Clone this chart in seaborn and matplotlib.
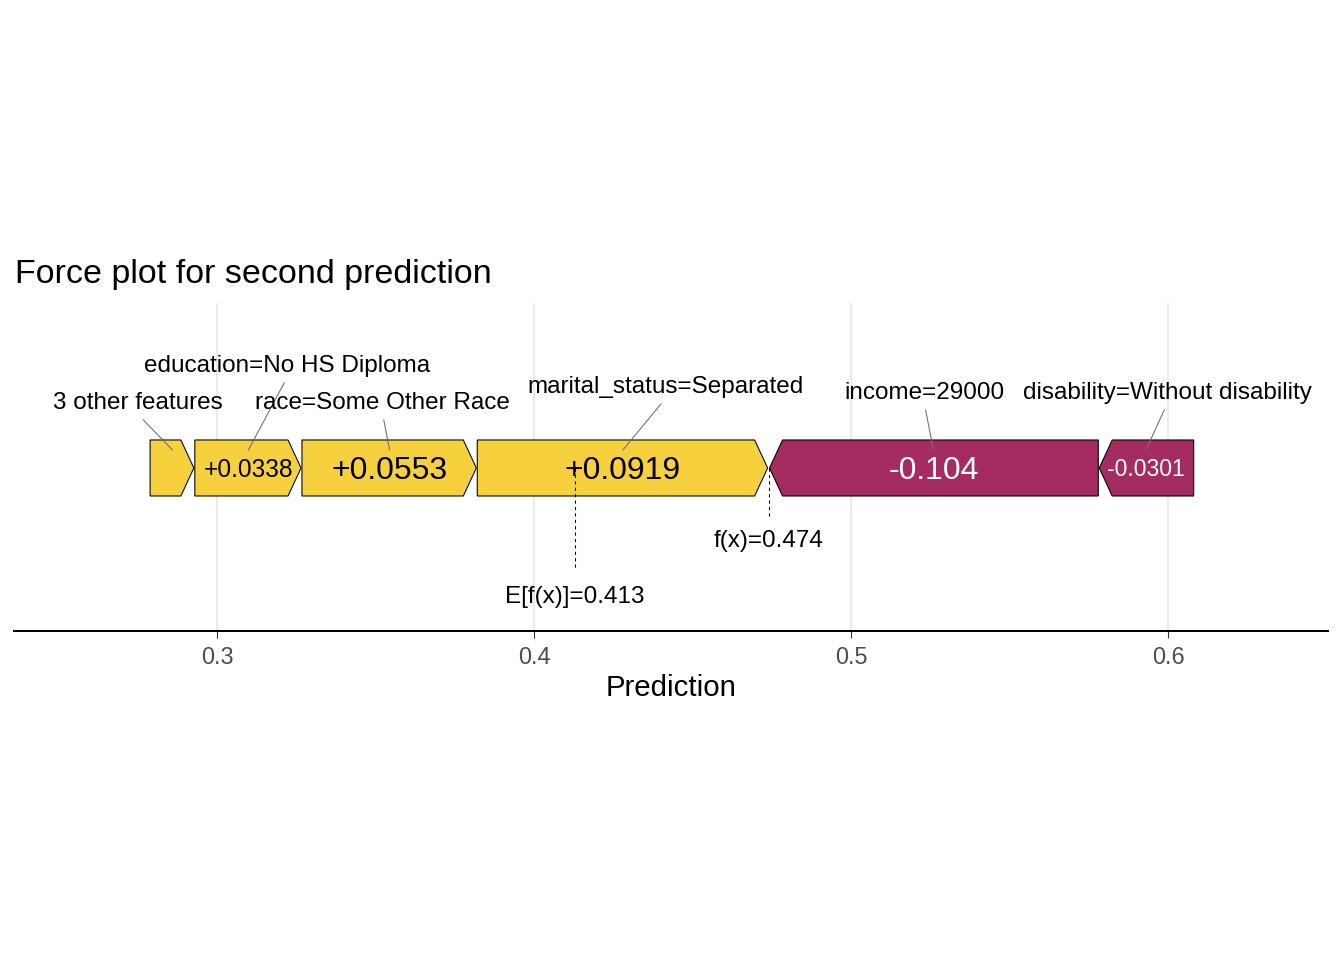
import matplotlib
matplotlib.use("Agg")
import matplotlib.pyplot as plt
import seaborn as sns

# SHAP contributions, left to right as drawn
features = ["3 other features", "education=No HS Diploma", "race=Some Other Race",
            "marital_status=Separated", "income=29000", "disability=Without disability"]
shap_values = [0.0141, 0.0338, 0.0553, 0.0919, -0.104, -0.0301]
baseline = 0.413
prediction = 0.474
x_ticks = [0.3, 0.4, 0.5, 0.6]

pos_color = "#f7d13d"
neg_color = "#a52c60"

# label placement (repel result), pixels relative to the leader end
label_dx = [-35, 39, -7, 43, -9, 21]
label_dy = [41, 78, 41, 57, 51, 51]

sns.set_theme(style="whitegrid")
plt.rcParams["font.family"] = ["Liberation Sans", "DejaVu Sans"]

W, H = 1344, 960
fig = plt.figure(figsize=(7, 5), dpi=192)
ax = fig.add_axes([14 / W, 1 - 631 / H, (1328 - 14) / W, (631 - 303) / H])
ax.set_xlim(0.23596, 0.65047)
ax.set_ylim(-0.497, 0.503)

half = 0.0854   # half bar height
tip = 0.0041    # arrow tip depth
gap = 0.0003

# stack the bars
total_pos = sum(v for v in shap_values if v > 0)
left = prediction - total_pos
right = prediction
starts, ends = [], []
for v in shap_values:
    if v > 0:
        starts.append(left)
        ends.append(left + v)
        left += v
    else:
        starts.append(right)
        ends.append(right - v)
        right -= v

for x0, x1, v in zip(starts, ends, shap_values):
    if v > 0:
        xs = [x0, x1 - gap - tip, x1 - gap, x1 - gap - tip, x0]
        ys = [-half, -half, 0, half, half]
        col = pos_color
    else:
        xs = [x0 + gap, x0 + gap + tip, x1, x1, x0 + gap + tip]
        ys = [0, half, half, -half, -half]
        col = neg_color
    ax.fill(xs, ys, facecolor=col, edgecolor="black", lw=0.4, zorder=2)

# baseline and prediction markers
dash = (0, (3, 3))
ax.plot([baseline, baseline], [0, -0.311], color="black", lw=0.4, ls=dash, zorder=3)
ax.plot([prediction, prediction], [0, -0.155], color="black", lw=0.4, ls=dash, zorder=3)
ax.text(baseline, -0.4116, f"E[f(x)]={baseline:.3f}", ha="center", va="baseline",
        fontsize=9.1, color="black", zorder=4)
ax.text(prediction, -0.2409, f"f(x)={prediction:.3f}", ha="center", va="baseline",
        fontsize=9.1, color="black", zorder=4)

# feature labels with leader lines
for x0, x1, name, dx, dy in zip(starts, ends, features, label_dx, label_dy):
    ax.annotate(name, xy=((x0 + x1) / 2, 0.0549), xytext=(dx, dy),
                textcoords="offset pixels", ha="center", va="baseline",
                fontsize=9.1, color="black", zorder=5,
                arrowprops=dict(arrowstyle="-", color="#6e6e6e", lw=0.4,
                                relpos=(0.5, 0), shrinkA=0, shrinkB=0))

# contribution values, shrunk to fit inside the bars
fig.canvas.draw()
renderer = fig.canvas.get_renderer()
for x0, x1, v in zip(starts, ends, shap_values):
    bar_px = ax.transData.transform((x1, 0))[0] - ax.transData.transform((x0, 0))[0]
    t = ax.annotate(f"{v:+.3g}", xy=((x0 + x1) / 2, 0), xytext=(0, 0),
                    textcoords="offset pixels", ha="center", va="baseline",
                    fontsize=12, color="black" if v > 0 else "white", zorder=4)
    w = t.get_window_extent(renderer).width
    avail = bar_px - 18
    size = 12 if w <= avail else 12 * avail / w
    if size < 4:
        t.remove()
        continue
    t.set_fontsize(size)
    t.xyann = (0, -0.358 * size * fig.dpi / 72)

ax.set_xticks(x_ticks)
ax.set_xticklabels([f"{t:.1f}" for t in x_ticks])
ax.set_yticks([])
ax.grid(axis="x", color="#ebebeb", lw=0.8)
ax.grid(axis="y", visible=False)
ax.set_facecolor("white")
sns.despine(ax=ax, left=True, top=True, right=True)
ax.spines["bottom"].set_color("black")
ax.spines["bottom"].set_linewidth(0.75)
ax.tick_params(axis="x", length=2.75, width=0.4, color="#333333", labelsize=8.8,
               labelcolor="#4d4d4d", pad=2.8, bottom=True)
ax.set_xlabel("Prediction", fontsize=11, color="black", labelpad=2)
ax.set_ylabel("")

fig.text(15 / W, 1 - 283 / H, "Force plot for second prediction", fontsize=12.75,
         ha="left", va="baseline", color="black")

fig.savefig("out.png", dpi=192, facecolor="white")
